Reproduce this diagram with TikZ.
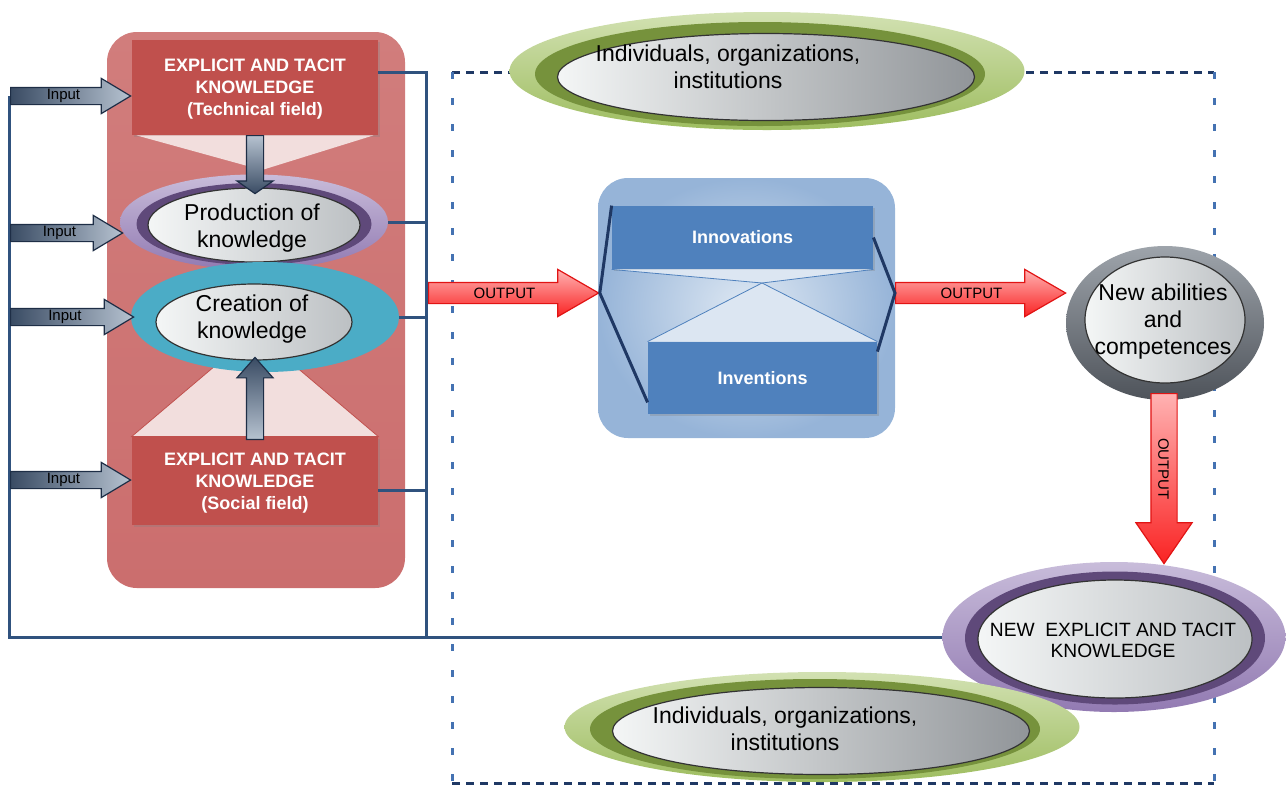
\documentclass[tikz,border=0pt]{standalone}
\usepackage{fontspec}
\setmainfont{Liberation Sans}
\usetikzlibrary{shapes.geometric,shapes.arrows,shadows}

\definecolor{panelTop}{RGB}{209,125,124}
\definecolor{panelMid}{RGB}{217,146,146}
\definecolor{panelBot}{RGB}{203,110,110}
\definecolor{boxRed}{RGB}{192,80,77}
\definecolor{pinkLight}{RGB}{242,222,221}
\definecolor{lavTop}{RGB}{200,188,218}
\definecolor{lavBot}{RGB}{146,122,178}
\definecolor{purpleDark}{RGB}{95,73,122}
\definecolor{tealC}{RGB}{75,172,198}
\definecolor{greenTop}{RGB}{210,225,178}
\definecolor{greenBot}{RGB}{158,189,96}
\definecolor{greenDark}{RGB}{118,146,60}
\definecolor{grayTop}{RGB}{158,164,171}
\definecolor{grayBot}{RGB}{78,83,90}
\definecolor{lensLight}{RGB}{244,246,246}
\definecolor{lensDark}{RGB}{188,192,195}
\definecolor{lensDeep}{RGB}{145,149,153}
\definecolor{blueBox}{RGB}{79,129,189}
\definecolor{bluePanelOut}{RGB}{150,180,216}
\definecolor{bluePanelIn}{RGB}{222,232,243}
\definecolor{triBlue}{RGB}{220,230,242}
\definecolor{lineNavy}{RGB}{48,82,126}
\definecolor{frameNavy}{RGB}{31,56,100}
\definecolor{frameBlue}{RGB}{68,114,178}
\definecolor{slateDark}{RGB}{58,76,100}
\definecolor{slateLight}{RGB}{182,194,208}
\definecolor{slateLine}{RGB}{30,46,70}
\definecolor{outRed}{RGB}{250,35,35}
\definecolor{outPink}{RGB}{255,178,178}
\definecolor{outLine}{RGB}{225,20,20}

\begin{document}
\begin{tikzpicture}[x=0.5pt,y=-0.5pt,
    panel/.style={rounded corners=15pt,inner sep=0pt},
    fieldbox/.style={fill=boxRed,text=white,align=center,inner sep=0pt,minimum width=123pt,text depth=0pt,
      font=\fontsize{9}{11}\selectfont\bfseries,drop shadow={opacity=0.3,shadow xshift=1pt,shadow yshift=-1.2pt}},
    resbox/.style={fill=blueBox,text=white,inner sep=0pt,font=\fontsize{9}{11}\selectfont\bfseries,
      drop shadow={opacity=0.3,shadow xshift=1pt,shadow yshift=-1.2pt}},
    ring/.style={ellipse,inner sep=0pt},
    lens/.style={ellipse,inner sep=0pt,draw=black!80,line width=0.6pt,left color=lensLight,right color=lensDark},
    lenstext/.style={align=center,inner sep=0pt,font=\fontsize{11.5}{13.5}\selectfont},
    inarrow/.style={single arrow,anchor=tail,draw=slateLine,line width=0.6pt,left color=slateDark,right color=slateLight,
      font=\fontsize{7.5}{8}\selectfont,text height=5.2pt,text depth=1.6pt,inner xsep=0pt,inner ysep=0.6pt,
      single arrow head extend=4.5pt,single arrow tip angle=62},
    outarrow/.style={single arrow,anchor=tail,draw=outLine,line width=0.6pt,top color=outPink,bottom color=outRed,
      font=\fontsize{7.5}{8}\selectfont,text height=5.6pt,text depth=0pt,inner xsep=0pt,inner ysep=2.2pt,
      single arrow head extend=6.5pt,single arrow tip angle=60,minimum height=85pt},
    blockarrow/.style={single arrow,anchor=tail,draw=slateLine,line width=0.6pt,top color=slateLight,bottom color=slateDark,
      text height=0pt,text depth=0pt,inner xsep=0pt,inner ysep=4pt,single arrow head extend=4.75pt},
    busline/.style={lineNavy,line width=1.5pt},
    bracket/.style={frameNavy,line width=1.5pt},
    framedash/.style={frameNavy,line width=1.5pt,dash pattern=on 4pt off 3pt},
    framedot/.style={frameBlue,line width=1.5pt,dash pattern=on 3.5pt off 9.5pt}]

  \useasboundingbox (0,0) rectangle (1286,789);

  % --- dotted frame round the outcome side ---
  \coordinate (frNW) at (452,72);
  \coordinate (frNE) at (1214,72);
  \coordinate (frSE) at (1214,783);
  \coordinate (frSW) at (452,783);
  \draw[framedash] (frNW) -- (frNE) (frSW) -- (frSE);
  \draw[framedot] (frNW) -- (frSW) (frNE) -- (frSE);

  % --- knowledge panel (left) ---
  \node[panel,minimum width=149pt,minimum height=278pt,top color=panelTop,middle color=panelMid,bottom color=panelBot] (redpanel) at (256,310) {};
  \node[fieldbox,minimum height=47.5pt] (tech) at (255,87.5) {EXPLICIT AND TACIT\\KNOWLEDGE\\(Technical field)};
  \node[fieldbox,minimum height=44pt] (soc) at (255,481) {EXPLICIT AND TACIT\\KNOWLEDGE\\(Social field)};
  \coordinate (techApex) at (262,170);
  \coordinate (socApex) at (255,332);
  \fill[pinkLight] ([xshift=2.5pt]tech.south west) -- ([xshift=-2.5pt]tech.south east) -- (techApex) -- cycle;
  \filldraw[fill=pinkLight,draw=boxRed,thin] (soc.north west) -- (socApex) -- (soc.north east) -- cycle;

  \node[ring,minimum width=134pt,minimum height=47.5pt,top color=lavTop,bottom color=lavBot] (prod) at (254,222) {};
  \node[ring,fill=purpleDark,minimum width=117.5pt,minimum height=41pt] (prodRing) at (254,224) {};
  \node[lens,minimum width=106pt,minimum height=37pt] (prodLens) at (254,225) {};
  \node[lenstext] (prodText) at (252,228) {Production of\\knowledge};

  \node[ring,fill=tealC,minimum width=134pt,minimum height=55pt] (crea) at (265,317) {};
  \node[lens,minimum width=98pt,minimum height=38pt] (creaLens) at (254,322) {};
  \node[lenstext] (creaText) at (252,319) {Creation of\\knowledge};

  \node[blockarrow,rotate=-90,minimum height=29pt,single arrow tip angle=110] (techDown) at (255,135) {};
  \node[blockarrow,rotate=90,minimum height=41pt,single arrow tip angle=83,top color=slateDark,bottom color=slateLight] (socUp) at (255,440) {};

  % --- results panel (middle) ---
  \node[panel,minimum width=148.5pt,minimum height=130pt,inner color=bluePanelIn,outer color=bluePanelOut] (respanel) at (746.5,308) {};
  \node[resbox,minimum width=130.5pt,minimum height=31.5pt] (innov) at (742.5,237.5) {Innovations};
  \node[resbox,minimum width=114.5pt,minimum height=36pt] (inven) at (762.5,378) {Inventions};
  \coordinate (cross) at (762,283);
  \filldraw[fill=triBlue,draw=blueBox,thin] (innov.south west) -- (cross) -- (innov.south east);
  \filldraw[fill=triBlue,draw=blueBox,thin] (inven.north west) -- (cross) -- (inven.north east);

  % --- outcome ellipses ---
  \node[ring,minimum width=99pt,minimum height=77pt,top color=grayTop,bottom color=grayBot] (abil) at (1165,323) {};
  \node[lens,minimum width=80pt,minimum height=63pt] (abilLens) at (1165,320) {};
  \node[lenstext] (abilText) at (1163,322) {New abilities\\and\\competences};

  \node[ring,minimum width=171.5pt,minimum height=75pt,top color=lavTop,bottom color=lavBot] (newk) at (1114,637) {};
  \node[ring,fill=purpleDark,minimum width=150pt,minimum height=66.5pt] (newkRing) at (1115,638) {};
  \node[lens,minimum width=137pt,minimum height=59pt] (newkLens) at (1115,639) {};
  \node[lenstext,font=\fontsize{9.6}{10.5}\selectfont] (newkText) at (1113,640) {NEW\ \ EXPLICIT AND TACIT\\KNOWLEDGE};

  \node[ring,minimum width=257.5pt,minimum height=59pt,top color=greenTop,bottom color=greenBot] (orgTop) at (767,71) {};
  \node[ring,fill=greenDark,minimum width=225pt,minimum height=52pt] (orgTopRing) at (760,74) {};
  \node[lens,minimum width=208.5pt,minimum height=43.5pt,right color=lensDeep] (orgTopLens) at (766,77) {};
  \node[lenstext] (orgTopText) at (728,67) {Individuals, organizations,\\institutions};

  \node[ring,minimum width=257.5pt,minimum height=55pt,top color=greenTop,bottom color=greenBot] (orgBot) at (822,727) {};
  \node[ring,fill=greenDark,minimum width=225pt,minimum height=50pt] (orgBotRing) at (815,729) {};
  \node[lens,minimum width=208.5pt,minimum height=43.5pt,right color=lensDeep] (orgBotLens) at (821,731) {};
  \node[lenstext] (orgBotText) at (785,729) {Individuals, organizations,\\institutions};

  % --- feedback bus ---
  \coordinate (busTop) at (426,72);
  \coordinate (busBot) at (426,636);
  \coordinate (fbTop) at (9,96);
  \coordinate (socTap) at ([yshift=-4.5pt]soc.east);
  \draw[busline] (tech.east |- busTop) -- (busTop) -- (busBot);
  \draw[busline] (prod.east) -- (prod.east -| busTop);
  \draw[busline] (crea.east) -- (crea.east -| busTop);
  \draw[busline] (socTap) -- (socTap -| busTop);
  \draw[busline] (fbTop) |- (newk.west);

  % --- inputs and outputs ---
  \node[inarrow,minimum height=60pt] (in1) at (10,96) {Input};
  \node[inarrow,minimum height=56pt] (in2) at (10,233) {Input};
  \node[inarrow,minimum height=61.5pt] (in3) at (10,317) {Input};
  \node[inarrow,minimum height=60pt] (in4) at (10,480) {Input};

  \node[outarrow] (out1) at (428,293) {OUTPUT};
  \node[outarrow] (out2) at (895,293) {OUTPUT};
  \node[outarrow,rotate=-90,inner ysep=3.45pt,single arrow head extend=7.5pt,single arrow tip angle=69] (out3) at (1164,393) {OUTPUT};

  \draw[bracket] (innov.north west) -- (out1.tip) -- ([yshift=6pt]inven.south west);
  \draw[bracket] (innov.east) -- (out2.tail) -- ([yshift=-5pt]inven.north east);
\end{tikzpicture}
\end{document}
